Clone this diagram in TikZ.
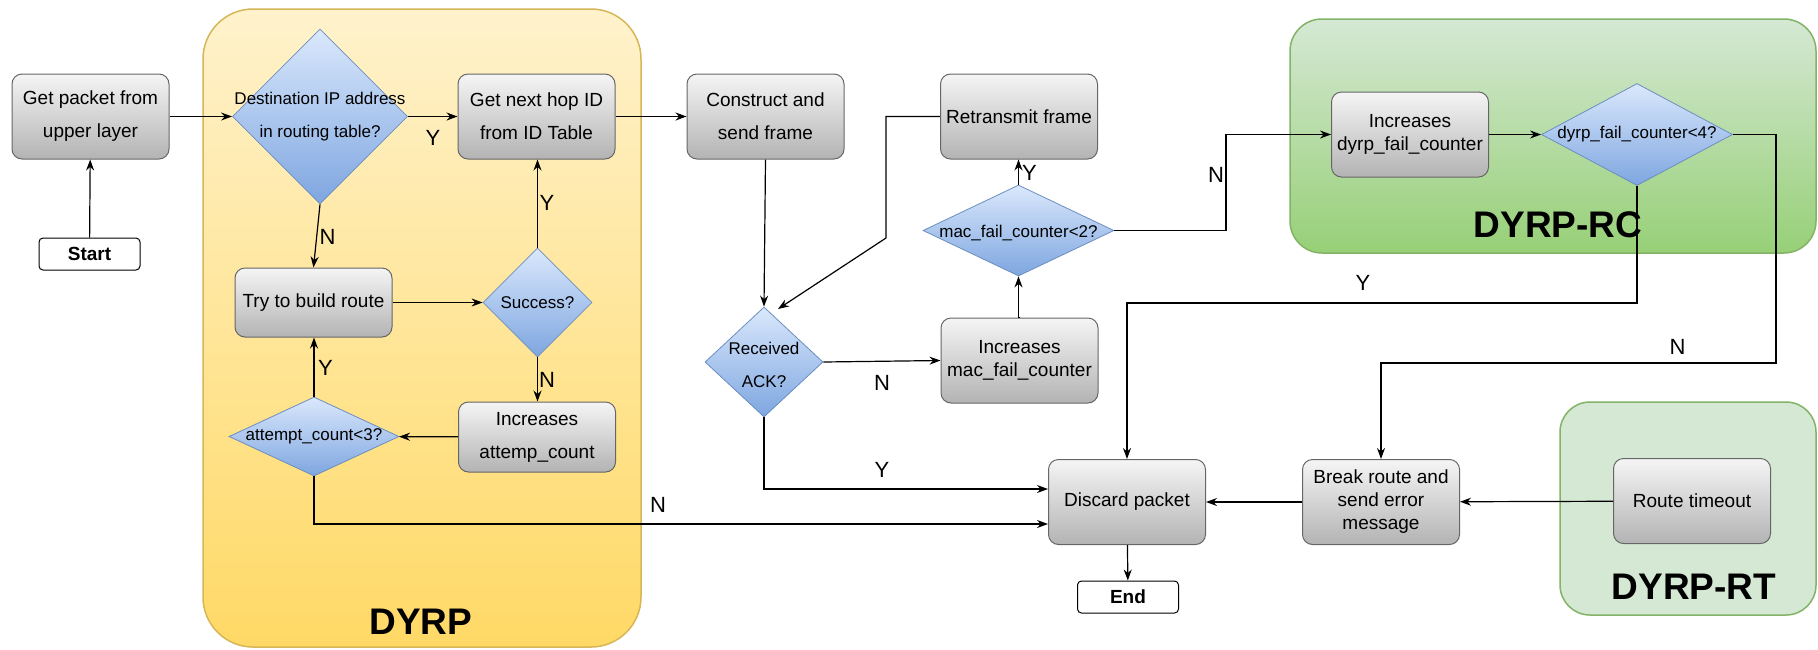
\documentclass[tikz,border=0pt]{standalone}
\usepackage{fontspec}
\setmainfont{Liberation Sans}
\usetikzlibrary{shapes.geometric,arrows.meta,calc}

\definecolor{boxtop}{HTML}{F5F5F5}
\definecolor{boxbot}{HTML}{B3B3B3}
\definecolor{boxline}{HTML}{666666}
\definecolor{diatop}{HTML}{DAE8FC}
\definecolor{diabot}{HTML}{7EA6E0}
\definecolor{dialine}{HTML}{6C8EBF}
\definecolor{ytop}{HTML}{FFF2CC}
\definecolor{ybot}{HTML}{FFD966}
\definecolor{yline}{HTML}{D6B656}
\definecolor{gtop}{HTML}{D5E8D4}
\definecolor{gbot}{HTML}{97D077}
\definecolor{gline}{HTML}{82B366}

\begin{document}
\begin{tikzpicture}[x=1pt,y=-1pt,
  proc/.style={rectangle, rounded corners=10pt, draw=boxline, line width=1pt,
    top color=boxtop, bottom color=boxbot, minimum width=157pt, minimum height=85pt,
    inner sep=0pt, align=center, font=\fontsize{19}{33}\selectfont},
  tight/.style={font=\fontsize{19}{23}\selectfont},
  dia/.style={diamond, draw=dialine, line width=0.8pt, top color=diatop,
    bottom color=diabot, inner sep=0pt},
  diatext/.style={align=center, font=\fontsize{17}{33}\selectfont, inner sep=0pt},
  term/.style={rectangle, rounded corners=4pt, draw=black, line width=1pt, fill=white,
    minimum width=101pt, minimum height=32pt, inner sep=0pt,
    font=\fontsize{19}{22}\selectfont\bfseries},
  lbl/.style={font=\fontsize{22}{24}\selectfont, inner sep=0pt},
  title/.style={font=\fontsize{37}{40}\selectfont\bfseries, inner sep=0pt},
  link/.style={draw=black, line width=1.2pt, -{Stealth[length=11pt,width=8pt]}}
]
\useasboundingbox (0,0) rectangle (1818,649);

% protocol regions
\path[draw=yline, line width=1.5pt, top color=ytop, bottom color=ybot, rounded corners=50pt]
  (203,9) rectangle (641,647);
\path[draw=gline, line width=1.5pt, top color=gtop, bottom color=gbot, rounded corners=32pt]
  (1290,19) rectangle (1816,253);
\path[draw=gline, line width=1.5pt, fill=gtop, rounded corners=30pt]
  (1560,402) rectangle (1816,615);

\node[title] at (421,622) {DYRP};
\node[title] at (1558,225) {DYRP-RC};
\node[title] at (1694,587) {DYRP-RT};

% steps and decisions
\node[term] (start) at (89.5,254) {Start};
\node[proc] (getpkt) at (90.5,116.5) {Get packet from\\upper layer};
\node[dia, minimum width=175pt, minimum height=175pt] (dest) at (320,116.5) {};
\node[diatext] at (dest) {Destination IP address\\in routing table?};
\node[proc] (nexthop) at (536.5,116.5) {Get next hop ID\\from ID Table};
\node[proc, minimum height=69pt] (build) at (313.5,302.5) {Try to build route};
\node[dia, minimum width=109pt, minimum height=109pt] (succ) at (537.5,302.5) {};
\node[diatext] at (succ) {Success?};
\node[dia, minimum width=170pt, minimum height=79pt] (attempt) at (314,436.5) {};
\node[diatext] at (attempt) {attempt\_count<3?};
\node[proc, minimum height=70pt] (incatt) at (537,437) {Increases\\attemp\_count};
\node[proc] (construct) at (765.5,116.5) {Construct and\\send frame};
\node[dia, minimum width=118pt, minimum height=110pt] (recv) at (764,362) {};
\node[diatext] at ([yshift=-3pt]recv.center) {Received\\ACK?};
\node[proc, tight] (incmac) at (1019.5,360.5) {Increases\\mac\_fail\_counter};
\node[dia, minimum width=191pt, minimum height=91pt] (mac) at (1018.5,230.5) {};
\node[diatext] at ([yshift=-3pt]mac.center) {mac\_fail\_counter<2?};
\node[proc] (retx) at (1019,116.5) {Retransmit frame};
\node[proc] (discard) at (1127,502) {Discard packet};
\node[term] (endn) at (1128,597) {End};
\node[proc, tight] (incdyrp) at (1410,134.5) {Increases\\dyrp\_fail\_counter};
\node[dia, minimum width=191pt, minimum height=102pt] (dyrp) at (1637,134.5) {};
\node[diatext] at (dyrp) {dyrp\_fail\_counter<4?};
\node[proc, tight] (brk) at (1381,502) {Break route and\\send error\\message};
\node[proc] (timeout) at (1692,501) {Route timeout};

% bend points
\coordinate (bend) at (886,238);
\coordinate (recvin) at (778,309);
\coordinate (macturn) at (1226,134.5);
\coordinate (yturn) at (1637,303);
\coordinate (nturn) at (1776,363);

% connectors
\draw[link] (start) -- (getpkt);
\draw[link] (getpkt) -- (dest);
\draw[link] (dest) -- (nexthop);
\draw[link] (dest.south) -- (build.north);
\draw[link] (build) -- (succ);
\draw[link] (succ.north) -- (succ.north |- nexthop.south);
\draw[link] (succ.south) -- (succ.south |- incatt.north);
\draw[link] (incatt) -- (attempt);
\draw[link] (attempt.north) -- (attempt.north |- build.south);
\draw[link] (attempt.south) |- ($(discard.west)+(0,22)$);
\draw[link] (nexthop) -- (construct);
\draw[link] (construct.south) -- (recv.north);
\draw[link] (recv.east) -- (incmac.west);
\draw[link] (incmac.north) -- (incmac.north -| mac.south) -- (mac.south);
\draw[link] (mac.north) -- (mac.north |- retx.south);
\draw[link] (retx.west) -| (bend) -- (recvin);
\draw[link] (recv.south) |- ($(discard.west)+(0,-13)$);
\draw[link] (mac.east) -| (macturn) -- (incdyrp.west);
\draw[link] (incdyrp) -- (dyrp);
\draw[link] (dyrp.south) -- (yturn) -| (discard.north);
\draw[link] (dyrp.east) -| (nturn) -| (brk.north);
\draw[link] (timeout) -- (brk);
\draw[link] (brk) -- (discard);
\draw[link] (discard) -- (endn);

% branch labels
\node[lbl] at (433,138) {Y};
\node[lbl] at (327.5,237) {N};
\node[lbl] at (547,203) {Y};
\node[lbl] at (547,380) {N};
\node[lbl] at (325.5,368) {Y};
\node[lbl] at (658,505) {N};
\node[lbl] at (882,470) {Y};
\node[lbl] at (882,383) {N};
\node[lbl] at (1029.5,173) {Y};
\node[lbl] at (1216,175) {N};
\node[lbl] at (1363,283) {Y};
\node[lbl] at (1677.5,347) {N};
\end{tikzpicture}
\end{document}
